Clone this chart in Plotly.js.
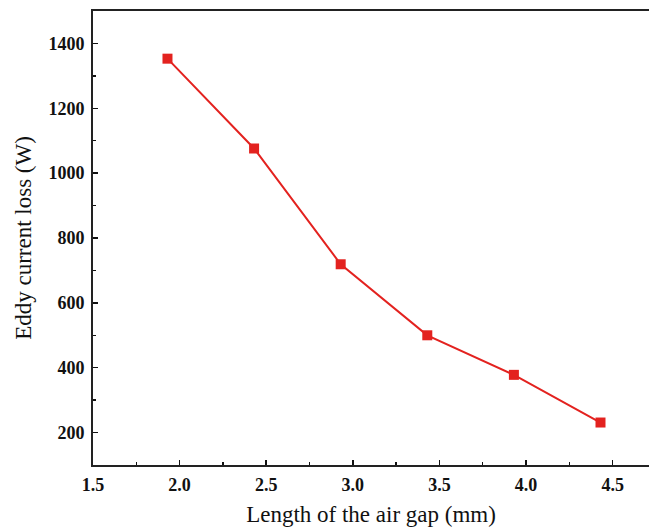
<!DOCTYPE html>
<html>
<head>
<meta charset="utf-8">
<script src="https://cdn.plot.ly/plotly-3.0.1.min.js"></script>
<style>html,body{margin:0;padding:0;background:#fff;}#chart{width:649px;height:529px;}</style>
</head>
<body>
<div id="chart"></div>
<script>
var airGap = [1.93, 2.43, 2.93, 3.43, 3.93, 4.43];
var eddyLoss = [1353, 1076, 719, 500, 378, 231];
var xTicks = [1.5, 2.0, 2.5, 3.0, 3.5, 4.0, 4.5];
var xTickLabels = ['1.5', '2.0', '2.5', '3.0', '3.5', '4.0', '4.5'];
var yTicks = [200, 400, 600, 800, 1000, 1200, 1400];
var yTickLabels = ['200', '400', '600', '800', '1000', '1200', '1400'];

var serif = 'Liberation Serif, Times New Roman, serif';
var trace = {
  x: airGap, y: eddyLoss, type: 'scatter', mode: 'lines+markers',
  line: {color: '#e3221f', width: 2},
  marker: {symbol: 'square', size: 10, color: '#e3221f'},
  showlegend: false
};
var tickFont = {family: serif, size: 18, color: '#111', weight: 'bold'};
var titleFont = {family: serif, size: 23, color: '#111'};
var layout = {
  width: 649, height: 529,
  margin: {l: 93, r: 0, t: 11, b: 64},
  paper_bgcolor: '#fff', plot_bgcolor: '#fff',
  xaxis: {
    range: [1.5, 4.71], tickvals: xTicks, ticktext: xTickLabels,
    ticks: 'inside', ticklen: 5, tickwidth: 1.5, tickcolor: '#111',
    minor: {dtick: 0.25, ticks: 'inside', ticklen: 3, tickwidth: 1.5, tickcolor: '#111'},
    showline: true, linecolor: '#222', linewidth: 2, mirror: true,
    showgrid: false, zeroline: false,
    tickfont: tickFont, ticklabelstandoff: 2,
    title: {text: 'Length of the air gap (mm)', font: titleFont, standoff: 12}
  },
  yaxis: {
    range: [100, 1500], tickvals: yTicks, ticktext: yTickLabels,
    ticks: 'inside', ticklen: 5, tickwidth: 1.5, tickcolor: '#111',
    minor: {dtick: 100, ticks: 'inside', ticklen: 3, tickwidth: 1.5, tickcolor: '#111'},
    showline: true, linecolor: '#222', linewidth: 2, mirror: false,
    showgrid: false, zeroline: false,
    tickfont: tickFont, ticklabelstandoff: 3,
    title: {text: 'Eddy current loss (W)', font: titleFont, standoff: 10}
  }
};
Plotly.newPlot('chart', [trace], layout, {displayModeBar: false, staticPlot: true});
</script>
</body>
</html>
